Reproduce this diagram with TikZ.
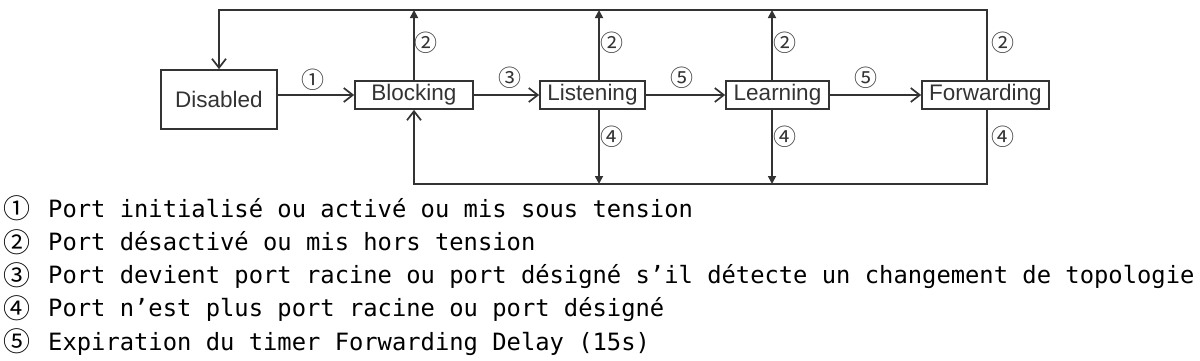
\documentclass[tikz,border=0pt]{standalone}
\usepackage{fontspec}
\setmainfont{Liberation Sans}
\newfontfamily\monofont{DejaVu Sans Mono}
\newfontfamily\circfont{Noto Sans CJK SC}
\usetikzlibrary{arrows.meta}
\definecolor{ink}{HTML}{333333}
\begin{document}
\begin{tikzpicture}[x=1pt,y=-1pt,
  box/.style={draw=ink, line width=1.7pt, inner sep=0pt, font=\fontsize{22.5}{22.5}\selectfont, text=ink},
  lab/.style={font=\circfont\fontsize{23}{23}\selectfont, text=ink, inner sep=0pt},
  wire/.style={draw=ink, line width=1.7pt},
  open/.style={wire, -{Straight Barb[length=9pt,width=14pt,line width=1.7pt]}},
  solidtip/.style={wire, -{Triangle[length=8pt,width=8pt]}},
  leg/.style={font=\monofont\fontsize{23.8}{24}\selectfont, anchor=base west, inner sep=0pt},
  legnum/.style={font=\circfont\fontsize{27}{27}\selectfont, inner sep=0pt}]
\useasboundingbox (0,0) rectangle (1200,360);
% state boxes
\node[box, minimum width=116pt, minimum height=59pt] (dis) at (219,99.5) {Disabled};
\node[box, minimum width=118pt, minimum height=28pt] (blk) at (414,95) {Blocking};
\node[box, minimum width=105pt, minimum height=28pt] (lis) at (592.5,95) {Listening};
\node[box, minimum width=103pt, minimum height=28pt] (lea) at (777.5,95) {Learning};
\node[box, minimum width=127pt, minimum height=28pt] (fwd) at (985.5,95) {Forwarding};
% bus coordinates
\coordinate (tl) at (219,10);
\coordinate (tB) at (414,10);
\coordinate (tL) at (599,10);
\coordinate (tA) at (772,10);
\coordinate (tF) at (987,10);
\coordinate (bB) at (414,184);
\coordinate (bL) at (599,184);
\coordinate (bA) at (772,184);
\coordinate (bF) at (987,184);
% top and bottom buses
\draw[open] (fwd.north -| tF) -- (tF) -- (tl) -- (dis.north);
\draw[open] (fwd.south -| bF) -- (bF) -- (bB) -- (blk.south);
% vertical arrows
\draw[solidtip] (blk.north) -- (tB);
\draw[solidtip] (lis.north -| tL) -- (tL);
\draw[solidtip] (lea.north -| tA) -- (tA);
\draw[solidtip] (lis.south -| bL) -- (bL);
\draw[solidtip] (lea.south -| bA) -- (bA);
% horizontal arrows
\draw[open] (dis.east |- blk.west) -- (blk.west);
\draw[open] (blk.east) -- (lis.west);
\draw[open] (lis.east) -- (lea.west);
\draw[open] (lea.east) -- (fwd.west);
% labels
\node[lab] (a1) at (313,80) {①};
\node[lab] (a3) at (510,78) {③};
\node[lab] (a5) at (682,78) {⑤};
\node[lab] (b5) at (866,78) {⑤};
\node[lab] (c2) at (426,43) {②};
\node[lab] (d2) at (612,43) {②};
\node[lab] (e2) at (785,43) {②};
\node[lab] (f2) at (1003,43) {②};
\node[lab] (d4) at (612,137) {④};
\node[lab] (e4) at (785,137) {④};
\node[lab] (f4) at (1003,137) {④};
% legend
\node[legnum] (k1) at (17,208.5) {①};
\node[legnum] (k2) at (17,241.75) {②};
\node[legnum] (k3) at (17,275) {③};
\node[legnum] (k4) at (17,308.25) {④};
\node[legnum] (k5) at (17,341.5) {⑤};
\node[leg] (l1) at (48,217) {Port initialisé ou activé ou mis sous tension};
\node[leg] (l2) at (48,250.25) {Port désactivé ou mis hors tension};
\node[leg] (l3) at (48,283.5) {Port devient port racine ou port désigné s’il détecte un changement de topologie};
\node[leg] (l4) at (48,316.75) {Port n’est plus port racine ou port désigné};
\node[leg] (l5) at (48,350) {Expiration du timer Forwarding Delay (15s)};
\end{tikzpicture}
\end{document}
